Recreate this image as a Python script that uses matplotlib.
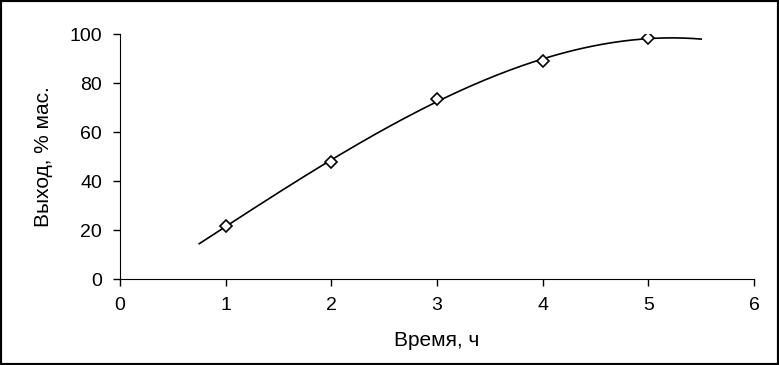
import numpy as np
import matplotlib.pyplot as plt
from matplotlib.patches import Rectangle

plt.rcParams['font.family'] = ['Liberation Sans', 'DejaVu Sans']

# data
time_h = [1, 2, 3, 4, 5]
yield_pct = [21.6, 47.9, 73.5, 89.1, 98.3]
trend_range = [0.75, 5.5]
x_ticks = [0, 1, 2, 3, 4, 5, 6]
y_ticks = [0, 20, 40, 60, 80, 100]

fig = plt.figure(figsize=(7.79, 3.65), dpi=100)
ax = fig.add_axes([0.154, 0.2356, 0.814, 0.6712])

# polynomial trendline through the points (as in the original spreadsheet)
coef = np.polyfit(time_h, yield_pct, 3)
xs = np.linspace(trend_range[0], trend_range[1], 200)
ax.plot(xs, np.polyval(coef, xs), color='black', lw=1.2)
ax.plot(time_h, yield_pct, linestyle='None', marker='D', ms=6.5,
        mfc='white', mec='black', mew=1.2)

ax.set_xlim(0, 6)
ax.set_ylim(0, 100)
ax.set_xticks(x_ticks)
ax.set_yticks(y_ticks)
ax.spines['top'].set_visible(False)
ax.spines['right'].set_visible(False)
ax.tick_params(direction='out', length=5, width=1, labelsize=14, pad=8)
ax.set_xlabel('Время, ч', fontsize=15, labelpad=12)
ax.set_ylabel('Выход, % мас.', fontsize=15, labelpad=12)

fig.patches.append(Rectangle((0, 0), 1, 1, transform=fig.transFigure,
                             fill=False, edgecolor='black', lw=3))

fig.savefig('out.png', dpi=100)
